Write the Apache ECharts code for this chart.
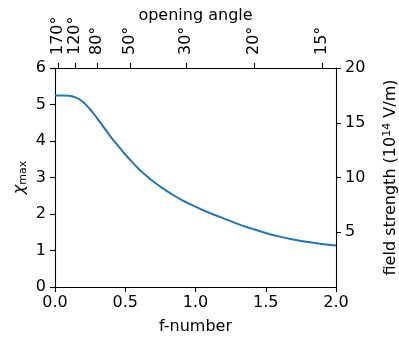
<!DOCTYPE html>
<html><head><meta charset="utf-8">
<script src="https://cdn.jsdelivr.net/npm/echarts@6/dist/echarts.min.js"></script>
<style>html,body{margin:0;padding:0;background:#fff}#c{width:399px;height:337px}</style>
</head><body><div id="c"></div>
<script>
const fNumber = [0, 0.05, 0.1, 0.15, 0.2, 0.25, 0.3, 0.35, 0.4, 0.45, 0.5, 0.55, 0.6, 0.65, 0.7, 0.75, 0.8, 0.85, 0.9, 0.95, 1.0, 1.1, 1.2, 1.3, 1.4, 1.5, 1.6, 1.7, 1.8, 1.9, 2.0];
const chiMax = [5.25, 5.25, 5.24, 5.19, 5.07, 4.87, 4.62, 4.36, 4.10, 3.86, 3.63, 3.42, 3.22, 3.05, 2.89, 2.75, 2.62, 2.50, 2.39, 2.29, 2.20, 2.03, 1.88, 1.73, 1.60, 1.48, 1.38, 1.30, 1.23, 1.18, 1.14];
const angleTicks = [170, 120, 80, 50, 30, 20, 15];
const rightTicks = [5, 10, 15, 20];

const angleToF = a => 1 / (4 * Math.tan(a * Math.PI / 360));
const angleF = angleTicks.map(angleToF);
const font = 'DejaVu Sans';
const fs = 16;
const axisLine = {show: true, onZero: false, lineStyle: {color: '#000', width: 1.1}};
const tick = {show: true, inside: false, length: 5, lineStyle: {color: '#000', width: 1.1}};

const chart = echarts.init(document.getElementById('c'));
chart.setOption({
  animation: false,
  grid: {left: 55, right: 63, top: 68, bottom: 50, containLabel: false, outerBoundsMode: 'none'},
  xAxis: [{
    type: 'value', min: 0, max: 2, interval: 0.5, position: 'bottom',
    name: 'f-number', nameLocation: 'middle', nameGap: 32, nameMoveOverlap: false,
    nameTextStyle: {fontFamily: font, fontSize: fs, color: '#000'},
    axisLine, axisTick: tick, splitLine: {show: false},
    axisLabel: {fontFamily: font, fontSize: fs, color: '#000', margin: 8, formatter: v => v.toFixed(1)}
  }, {
    type: 'value', min: 0, max: 2, position: 'top',
    name: 'opening angle', nameLocation: 'middle', nameGap: 44, nameMoveOverlap: false,
    nameTextStyle: {fontFamily: font, fontSize: fs, color: '#000'},
    axisLine, splitLine: {show: false},
    axisTick: Object.assign({customValues: angleF}, tick),
    axisLabel: {customValues: angleF, rotate: -90, fontFamily: font, fontSize: fs, color: '#000', margin: 13,
      formatter: v => {
        let best = angleTicks[0], d = 1e9;
        angleTicks.forEach((a, i) => { const dd = Math.abs(angleF[i] - v); if (dd < d) { d = dd; best = a; } });
        return best + '°';
      }}
  }],
  yAxis: [{
    type: 'value', min: 0, max: 6, interval: 1, position: 'left',
    name: '{a|χ}{b|max}', nameLocation: 'middle', nameGap: 26, nameRotate: 90, nameMoveOverlap: false,
    nameTextStyle: {color: '#000', rich: {
      a: {fontFamily: font, fontStyle: 'italic', fontSize: fs, color: '#000'},
      b: {fontFamily: font, fontSize: 11, color: '#000', verticalAlign: 'bottom', padding: [7, 0, 0, 0]}
    }},
    axisLine, axisTick: tick, splitLine: {show: false},
    axisLabel: {fontFamily: font, fontSize: fs, color: '#000', margin: 9}
  }, {
    type: 'value', min: 0, max: 20, position: 'right',
    name: '{a|field strength (10}{s|14}{a| V/m)}', nameLocation: 'middle', nameGap: 46, nameRotate: 90, nameMoveOverlap: false,
    nameTextStyle: {color: '#000', rich: {
      a: {fontFamily: font, fontSize: fs, color: '#000'},
      s: {fontFamily: font, fontSize: 11, color: '#000', verticalAlign: 'top', padding: [0, 0, 7, 0]}
    }},
    axisLine, splitLine: {show: false},
    axisTick: Object.assign({customValues: rightTicks}, tick),
    axisLabel: {customValues: rightTicks, fontFamily: font, fontSize: fs, color: '#000', margin: 9}
  }],
  series: [{
    type: 'line', xAxisIndex: 0, yAxisIndex: 0, showSymbol: false, smooth: 0.4,
    data: fNumber.map((f, i) => [f, chiMax[i]]),
    lineStyle: {color: '#1f77b4', width: 2}
  }]
});
</script></body></html>
